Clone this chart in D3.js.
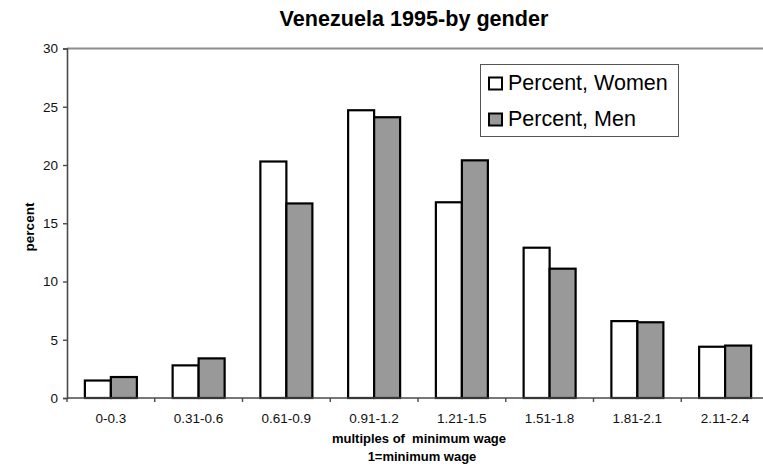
<!DOCTYPE html>
<html>
<head>
<meta charset="utf-8">
<script src="https://cdn.jsdelivr.net/npm/d3@7"></script>
<style>
  html, body { margin: 0; padding: 0; background: #fff; }
  svg { display: block; }
  svg text { font-family: "Liberation Sans", Arial, sans-serif; }
</style>
</head>
<body>
<svg id="chart" width="763" height="467"></svg>
<script>
const categories = ["0-0.3", "0.31-0.6", "0.61-0.9", "0.91-1.2", "1.21-1.5", "1.51-1.8", "1.81-2.1", "2.11-2.4"];
const seriesNames = ["Percent, Women", "Percent, Men"];
const women = [1.5, 2.8, 20.3, 24.7, 16.8, 12.9, 6.6, 4.4];
const men = [1.8, 3.4, 16.7, 24.1, 20.4, 11.1, 6.5, 4.5];
const yTicks = [0, 5, 10, 15, 20, 25, 30];
const titleText = "Venezuela 1995-by gender";
const yTitle = "percent";
const xTitle1 = "multiples of\u00a0\u00a0minimum wage";
const xTitle2 = "1=minimum wage";

const seriesValues = [women, men];
const colors = ["#ffffff", "#999999"];

const svg = d3.select("#chart");
const pLeft = 67, pRight = 769, pTop = 48.5, pBottom = 398;

const pad = 0.4074;
const x = d3.scaleBand().domain(categories).range([pLeft, pRight])
  .paddingInner(pad).paddingOuter(pad / 2);
const xs = d3.scaleBand().domain(seriesNames).range([0, x.bandwidth()]);
const y = d3.scaleLinear().domain([0, 30]).range([pBottom, pTop]);

// top border line
svg.append("line")
  .attr("x1", pLeft).attr("x2", pRight)
  .attr("y1", y(30)).attr("y2", y(30))
  .attr("stroke", "#8c8c8c").attr("stroke-width", 2);

// bars
const data = [];
categories.forEach((c, i) => {
  seriesNames.forEach((s, j) => data.push({ c, s, v: seriesValues[j][i], j }));
});
svg.append("g").selectAll("rect").data(data).join("rect")
  .attr("x", d => x(d.c) + xs(d.s))
  .attr("y", d => y(d.v))
  .attr("width", xs.bandwidth())
  .attr("height", d => y(0) - y(d.v))
  .attr("fill", d => colors[d.j])
  .attr("stroke", "#000").attr("stroke-width", 2.2);

// y axis
const yAxis = svg.append("g").attr("transform", `translate(${pLeft},0)`)
  .call(d3.axisLeft(y).tickValues(yTicks).tickSize(4).tickPadding(5).tickFormat(d3.format("d")));
yAxis.attr("font-family", null);
yAxis.select(".domain").attr("stroke", "#4a4a4a").attr("stroke-width", 1.6);
yAxis.selectAll(".tick line").attr("stroke", "#4a4a4a").attr("stroke-width", 1.4);
yAxis.selectAll(".tick text").attr("font-size", 13.5).attr("fill", "#111");

// x axis
const xAxisG = svg.append("g").attr("transform", `translate(0,${pBottom})`);
xAxisG.append("line").attr("x1", pLeft).attr("x2", pRight).attr("y1", 0).attr("y2", 0)
  .attr("stroke", "#4a4a4a").attr("stroke-width", 1.6);
const step = x.step();
const boundaries = d3.range(categories.length + 1).map(i => pLeft + i * step);
xAxisG.selectAll("line.tk").data(boundaries).join("line").attr("class", "tk")
  .attr("x1", d => d).attr("x2", d => d).attr("y1", 0).attr("y2", 4)
  .attr("stroke", "#4a4a4a").attr("stroke-width", 1.4);
xAxisG.selectAll("text").data(categories).join("text")
  .attr("x", d => x(d) + x.bandwidth() / 2)
  .attr("y", 25)
  .attr("text-anchor", "middle").attr("font-size", 13.5).attr("fill", "#111")
  .text(d => d);

// titles
svg.append("text").attr("x", 414).attr("y", 26).attr("text-anchor", "middle")
  .attr("font-size", 21.6).attr("font-weight", "bold").text(titleText);
svg.append("text").attr("transform", "translate(34,227) rotate(-90)")
  .attr("text-anchor", "middle").attr("font-size", 13.5).attr("font-weight", "bold").text(yTitle);
svg.append("text").attr("x", 419).attr("y", 443).attr("text-anchor", "middle")
  .attr("font-size", 13).attr("font-weight", "bold").text(xTitle1);
svg.append("text").attr("x", 422).attr("y", 461).attr("text-anchor", "middle")
  .attr("font-size", 13).attr("font-weight", "bold").text(xTitle2);

// legend
const lg = svg.append("g");
lg.append("rect").attr("x", 480.5).attr("y", 64.5).attr("width", 198).attr("height", 72)
  .attr("fill", "#fff").attr("stroke", "#555").attr("stroke-width", 1);
const rows = lg.selectAll("g.row").data(seriesNames).join("g").attr("class", "row")
  .attr("transform", (d, i) => `translate(0,${i * 36})`);
rows.append("rect").attr("x", 489).attr("y", 77.5).attr("width", 13).attr("height", 12)
  .attr("fill", (d, i) => colors[i]).attr("stroke", "#000").attr("stroke-width", 2);
rows.append("text").attr("x", 508).attr("y", 90).attr("font-size", 21.5).text(d => d);
</script>
</body>
</html>
